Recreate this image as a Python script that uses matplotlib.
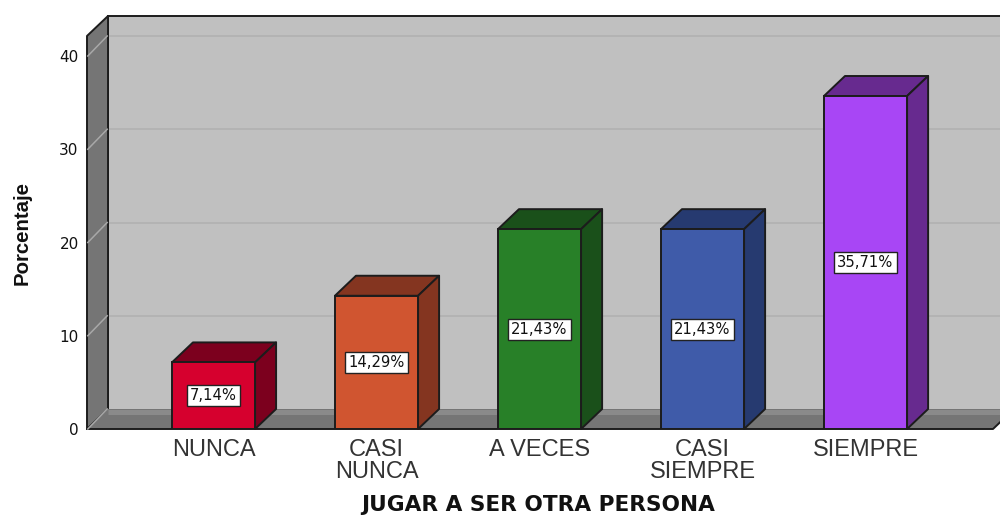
"""Barras 3D estilo SPSS: JUGAR A SER OTRA PERSONA."""
import matplotlib
matplotlib.use("Agg")
import matplotlib.pyplot as plt
from matplotlib.patches import Polygon

categories = ["NUNCA", "CASI\nNUNCA", "A VECES", "CASI\nSIEMPRE", "SIEMPRE"]
values = [7.14, 14.29, 21.43, 21.43, 35.71]
value_labels = ["7,14%", "14,29%", "21,43%", "21,43%", "35,71%"]
y_ticks = [0, 10, 20, 30, 40]
face_colors = ["#D6002E", "#D05530", "#288028", "#3F5BA9", "#A846F5"]
dark_colors = ["#7C001E", "#843520", "#1A501A", "#263A70", "#672A8F"]

# profundidad del efecto 3D, en unidades de los ejes
DX = 0.129
DY = 2.145
BAR_W = 0.51
X0, X1 = -0.776, 4.825
X_FLOOR_END = 4.782
Y_TOP = 42.15
EDGE = "#1c1c1c"

plt.rcParams["font.family"] = ["DejaVu Sans"]

fig = plt.figure(figsize=(10, 5.16), dpi=100)
ax = fig.add_axes([0.087, 87 / 516, 0.913, 413 / 516])
ax.set_xlim(X0, X1)
ax.set_ylim(0, 44.29)
for s in ax.spines.values():
    s.set_visible(False)
ax.patch.set_visible(False)


def poly(points, color, z, edge=EDGE, lw=1.4):
    ax.add_patch(Polygon(points, closed=True, facecolor=color, edgecolor=edge,
                         linewidth=lw, zorder=z, clip_on=False, joinstyle="round"))


# paredes y suelo
x_far = X_FLOOR_END + DX
poly([(X0 + DX, DY), (x_far, DY), (x_far, Y_TOP + DY), (X0 + DX, Y_TOP + DY)], "#C0C0C0", 1, edge="none")
ax.plot([X0 + DX, x_far], [Y_TOP + DY, Y_TOP + DY], color=EDGE, lw=1.4, zorder=3, clip_on=False)
poly([(X0, 0), (X0 + DX, DY), (X0 + DX, Y_TOP + DY), (X0, Y_TOP)], "#757575", 2)
poly([(X0, 0), (X_FLOOR_END, 0), (x_far, DY), (X0 + DX, DY)], "#757575", 2, edge="none")
ax.plot([x_far, X_FLOOR_END, X0], [DY, 0, 0], color=EDGE, lw=1.4, zorder=3, clip_on=False)
ax.plot([X0 + DX, x_far], [DY - 0.27, DY - 0.27], color="#8A8A8A", lw=3.6, zorder=2.5,
        solid_capstyle="butt", clip_on=False)

# rejilla sobre la pared y su diagonal en el lateral
for t in y_ticks:
    ax.plot([X0 + 0.005, X0 + DX - 0.005], [t, t + DY], color="#A8A8A8", lw=1.1, zorder=3, clip_on=False)
    if t > 0:
        ax.plot([X0 + DX, x_far], [t + DY, t + DY], color="#B0B0B0", lw=1.1, zorder=1.5, clip_on=False)

# barras
xs = list(range(len(values)))
ax.bar(xs, values, width=BAR_W, color=face_colors, edgecolor=EDGE, linewidth=1.4, zorder=5)
for x, v, dark, lab in zip(xs, values, dark_colors, value_labels):
    l, r = x - BAR_W / 2, x + BAR_W / 2
    poly([(l, v), (r, v), (r + DX, v + DY), (l + DX, v + DY)], dark, 4.5)
    poly([(r, 0), (r + DX, DY), (r + DX, v + DY), (r, v)], dark, 4.5)
    ax.text(x, v / 2, lab, ha="center", va="center", fontsize=10.6, color="#111111", zorder=6,
            bbox=dict(boxstyle="square,pad=0.2", facecolor="white", edgecolor="#222222", linewidth=1))

ax.set_xticks(xs)
ax.set_xticklabels(categories, fontsize=17, color="#333333", linespacing=0.95,
                   family=["Liberation Sans"])
ax.set_yticks(y_ticks)
ax.set_yticklabels([str(t) for t in y_ticks], fontsize=11, color="#111111")
ax.tick_params(axis="x", length=0, pad=7.5)
ax.tick_params(axis="y", length=0, pad=6)

ax.set_xlabel("JUGAR A SER OTRA PERSONA", fontsize=15.6, fontweight="bold", color="#111111")
ax.xaxis.set_label_coords((538.5 - 87) / 913, -66 / 413)
ax.set_ylabel("Porcentaje", fontsize=14.7, fontweight="bold", color="#111111",
              family=["Liberation Sans"])
ax.yaxis.set_label_coords((32 - 87) / 913, (429 - 233) / 413)

fig.savefig("out.png", dpi=100)
